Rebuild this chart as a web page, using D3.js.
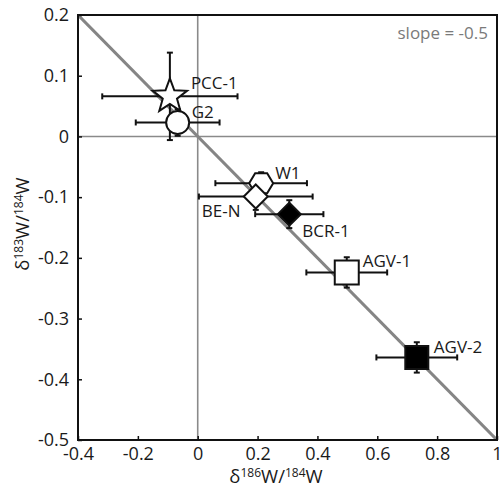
<!DOCTYPE html>
<html><head><meta charset="utf-8">
<script src="https://cdn.jsdelivr.net/npm/d3@7/dist/d3.min.js"></script>
<style>body{margin:0;background:#fff;} text{font-family:"Open Sans",sans-serif;}</style>
</head><body><svg id="c" width="504" height="489"></svg>
<script>
// Data
const samples = ["PCC-1","G2","W1","BE-N","BCR-1","AGV-1","AGV-2"];
const d186 = [-0.093,-0.067,0.212,0.194,0.306,0.498,0.732];
const d183 = [0.066,0.023,-0.077,-0.099,-0.128,-0.224,-0.364];
const err186 = [0.226,0.14,0.153,0.19,0.114,0.135,0.135];
const err183 = [0.072,0.022,0.018,0.022,0.023,0.025,0.025];
const shapes = ["star","circle","hexagon","diamond","diamond","square","square"];
const fills = ["white","white","white","white","black","white","black"];
const xTicks = [-0.4,-0.2,0,0.2,0.4,0.6,0.8,1];
const yTicks = [0.2,0.1,0,-0.1,-0.2,-0.3,-0.4,-0.5];
const slope = -0.5;

const svg = d3.select("#c");
const x = d3.scaleLinear().domain([-0.4,1]).range([78,497]);
const y = d3.scaleLinear().domain([-0.5,0.2]).range([440,15]);
const fmt = v => Math.abs(v)<1e-9 ? "0" : (Math.abs(v-1)<1e-9 ? "1" : (v<0?"-":"") + Math.abs(v).toFixed(1));

// zero lines
svg.append("line").attr("x1",x(0)).attr("x2",x(0)).attr("y1",y(0.2)).attr("y2",y(-0.5))
  .attr("stroke","#8a8a8a").attr("stroke-width",1.6);
svg.append("line").attr("x1",x(-0.4)).attr("x2",x(1)).attr("y1",y(0)).attr("y2",y(0))
  .attr("stroke","#8a8a8a").attr("stroke-width",1.6);
// slope line through (0,0)
svg.append("line").attr("x1",x(-0.4)).attr("y1",y(slope*-0.4))
  .attr("x2",x(1)).attr("y2",y(slope*1))
  .attr("stroke","#858585").attr("stroke-width",3.2);

// axes
const xAxis = d3.axisBottom(x).tickValues(xTicks).tickFormat(fmt).tickSizeInner(-4).tickSizeOuter(0).tickPadding(7);
const gx = svg.append("g").attr("transform",`translate(0,${y(-0.5)})`).call(xAxis);
const yAxis = d3.axisLeft(y).tickValues(yTicks).tickFormat(fmt).tickSizeInner(-4).tickSizeOuter(0).tickPadding(9);
const gy = svg.append("g").attr("transform",`translate(${x(-0.4)},0)`).call(yAxis);
[gx,gy].forEach(g=>{
  g.select(".domain").remove();
  g.selectAll(".tick line").attr("stroke","#111").attr("stroke-width",1.5);
  g.selectAll(".tick text").attr("font-size",18).attr("fill","#1a1a1a").attr("font-family","Open Sans");
});
gx.selectAll(".tick text").attr("dy","0.71em");

// frame
svg.append("rect").attr("x",x(-0.4)).attr("y",y(0.2)).attr("width",x(1)-x(-0.4)).attr("height",y(-0.5)-y(0.2))
  .attr("fill","none").attr("stroke","#111").attr("stroke-width",2);

// slope label
svg.append("text").attr("x",x(1)-9).attr("y",y(0.2)+24).attr("text-anchor","end")
  .attr("font-size",17).attr("fill","#7a7a7a").text("slope = -0.5");

// error bars
const data = samples.map((s,i)=>({s, x:d186[i], y:d183[i], ex:err186[i], ey:err183[i], shape:shapes[i], fill:fills[i]}));
const eb = svg.append("g").attr("stroke","#111");
data.forEach(d=>{
  eb.append("line").attr("x1",x(d.x-d.ex)).attr("x2",x(d.x+d.ex)).attr("y1",y(d.y)).attr("y2",y(d.y)).attr("stroke-width",2);
  eb.append("line").attr("y1",y(d.y-d.ey)).attr("y2",y(d.y+d.ey)).attr("x1",x(d.x)).attr("x2",x(d.x)).attr("stroke-width",2);
  [d.x-d.ex,d.x+d.ex].forEach(v=>eb.append("line").attr("x1",x(v)).attr("x2",x(v)).attr("y1",y(d.y)-3).attr("y2",y(d.y)+3).attr("stroke-width",2));
  [d.y-d.ey,d.y+d.ey].forEach(v=>eb.append("line").attr("y1",y(v)).attr("y2",y(v)).attr("x1",x(d.x)-3).attr("x2",x(d.x)+3).attr("stroke-width",2));
});

// markers
function starPath(R,r){
  const p=[];
  for(let i=0;i<10;i++){const a=-Math.PI/2+i*Math.PI/5; const rr=i%2?r:R; p.push([rr*Math.cos(a),rr*Math.sin(a)]);}
  return "M"+p.map(q=>q.join(",")).join("L")+"Z";
}
function hexPath(w,h){
  const a=w/2, b=h/2, c=w/4;
  return `M${-a},0L${-c},${-b}L${c},${-b}L${a},0L${c},${b}L${-c},${b}Z`;
}
function markerPath(shape){
  switch(shape){
    case "star": return starPath(18,7.5);
    case "circle": return d3.symbol(d3.symbolCircle, Math.PI*11.5*11.5)();
    case "hexagon": return hexPath(24,20);
    case "diamond": return "M0,-12L12,0L0,12L-12,0Z";
    case "square": return "M-12,-12L12,-12L12,12L-12,12Z";
  }
}
const order = ["W1","BE-N","BCR-1","AGV-1","AGV-2","PCC-1","G2"];
order.forEach(name=>{
  const d = data.find(q=>q.s===name);
  let path = markerPath(d.shape);
  if(name==="BCR-1") path="M0,-11.5L11.5,0L0,11.5L-11.5,0Z";
  if(name==="AGV-2") path="M-11.5,-11.5L11.5,-11.5L11.5,11.5L-11.5,11.5Z";
  svg.append("path").attr("d",path).attr("transform",`translate(${x(d.x)},${y(d.y)})`)
    .attr("fill",d.fill).attr("stroke","#111").attr("stroke-width",2).attr("stroke-linejoin","miter");
});

// labels
const labelDX = [21,14,14,-54,13,16,17];
const labelDY = [-7,-4,-4,20,23,-5,-4];
data.forEach((d,i)=>{
  svg.append("text").attr("x",x(d.x)+labelDX[i]).attr("y",y(d.y)+labelDY[i])
    .attr("font-size",17).attr("fill","#1a1a1a").text(d.s);
});

// axis titles
function title(sel, a, b){
  sel.append("tspan").text("δ");
  sel.append("tspan").attr("font-size",12).attr("dy",-6).text(a);
  sel.append("tspan").attr("dy",6).text("W/");
  sel.append("tspan").attr("font-size",12).attr("dy",-6).text(b);
  sel.append("tspan").attr("dy",6).text("W");
}
const xt = svg.append("text").attr("x",276).attr("y",483).attr("text-anchor","middle").attr("font-size",18.5).attr("fill","#1a1a1a");
title(xt,"186","184");
const yt = svg.append("text").attr("transform","translate(29,224) rotate(-90)").attr("text-anchor","middle").attr("font-size",18.5).attr("fill","#1a1a1a");
title(yt,"183","184");
</script></body></html>
